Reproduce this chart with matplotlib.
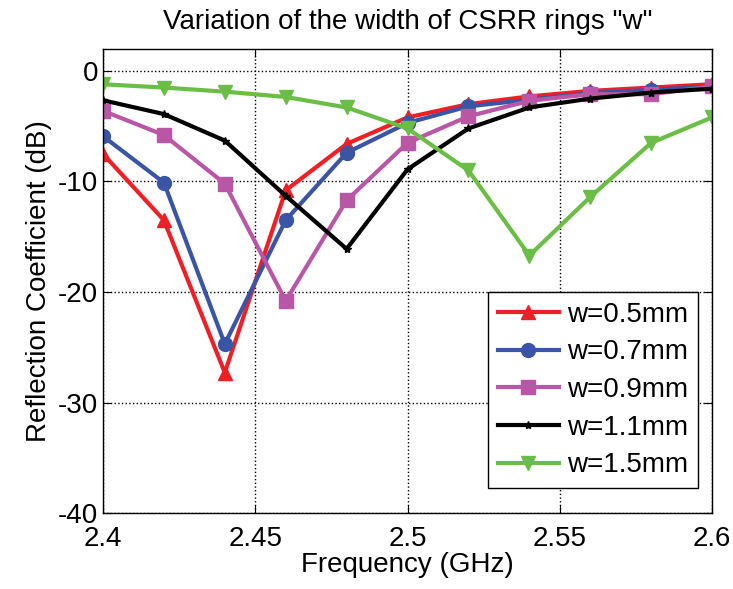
import matplotlib.pyplot as plt
import numpy as np

plt.rcParams['font.family'] = ['Liberation Sans', 'DejaVu Sans']
plt.rcParams['axes.unicode_minus'] = False

# frequency points (GHz)
freq = [2.40, 2.42, 2.44, 2.46, 2.48, 2.50, 2.52, 2.54, 2.56, 2.58, 2.60]

# reflection coefficient (dB) for each ring width
s11_w05 = [-7.5, -13.5, -27.3, -10.8, -6.6, -4.2, -3.0, -2.3, -1.8, -1.5, -1.2]
s11_w07 = [-5.9, -10.1, -24.7, -13.5, -7.4, -4.7, -3.2, -2.6, -2.0, -1.7, -1.4]
s11_w09 = [-3.6, -5.8, -10.2, -20.8, -11.7, -6.5, -4.1, -2.7, -2.1, -2.1, -1.4]
s11_w11 = [-2.65, -3.9, -6.3, -11.3, -16.1, -8.9, -5.2, -3.3, -2.5, -1.95, -1.6]
s11_w15 = [-1.2, -1.5, -1.87, -2.35, -3.3, -5.2, -9.0, -16.7, -11.4, -6.5, -4.2]

labels = ['w=0.5mm', 'w=0.7mm', 'w=0.9mm', 'w=1.1mm', 'w=1.5mm']

fig = plt.figure(figsize=(7.33, 5.89), dpi=100)
ax = fig.add_axes([0.1405, 0.129, 0.831, 0.788])

# 曲线
ax.plot(freq, s11_w05, color='#ee2026', marker='^', lw=3, ms=10, label=labels[0])
ax.plot(freq, s11_w07, color='#3a55a5', marker='o', lw=3, ms=10, label=labels[1])
ax.plot(freq, s11_w09, color='#b956a5', marker='s', lw=3, ms=10, label=labels[2])
ax.plot(freq, s11_w11, color='black', marker='*', lw=3, ms=6, label=labels[3])
ax.plot(freq, s11_w15, color='#6abd45', marker='v', lw=3, ms=10, label=labels[4])

ax.set_xlim(2.4, 2.6)
ax.set_ylim(-40, 2)
ax.set_xticks([2.4, 2.45, 2.5, 2.55, 2.6])
ax.set_xticklabels(['2.4', '2.45', '2.5', '2.55', '2.6'])
ax.set_yticks([-40, -30, -20, -10, 0])

ax.grid(True, linestyle=':', color='black', linewidth=1)
ax.tick_params(direction='in', top=True, right=True, length=6, labelsize=20)
ax.tick_params(axis='x', pad=9)
for sp in ax.spines.values():
    sp.set_linewidth(1)

ax.set_xlabel('Frequency (GHz)', fontsize=20, labelpad=0)
ax.set_ylabel('Reflection Coefficient (dB)', fontsize=20, labelpad=4)
ax.set_title('Variation of the width of CSRR rings "w"', fontsize=20, pad=14)

leg = ax.legend(loc='lower right', bbox_to_anchor=(0.977, 0.054), fontsize=20,
                fancybox=False, edgecolor='black', framealpha=1, handlelength=2.2,
                borderaxespad=0, labelspacing=0.42, handletextpad=0.3, borderpad=0.35)
leg.get_frame().set_linewidth(1)

fig.savefig('out.png', dpi=100)
